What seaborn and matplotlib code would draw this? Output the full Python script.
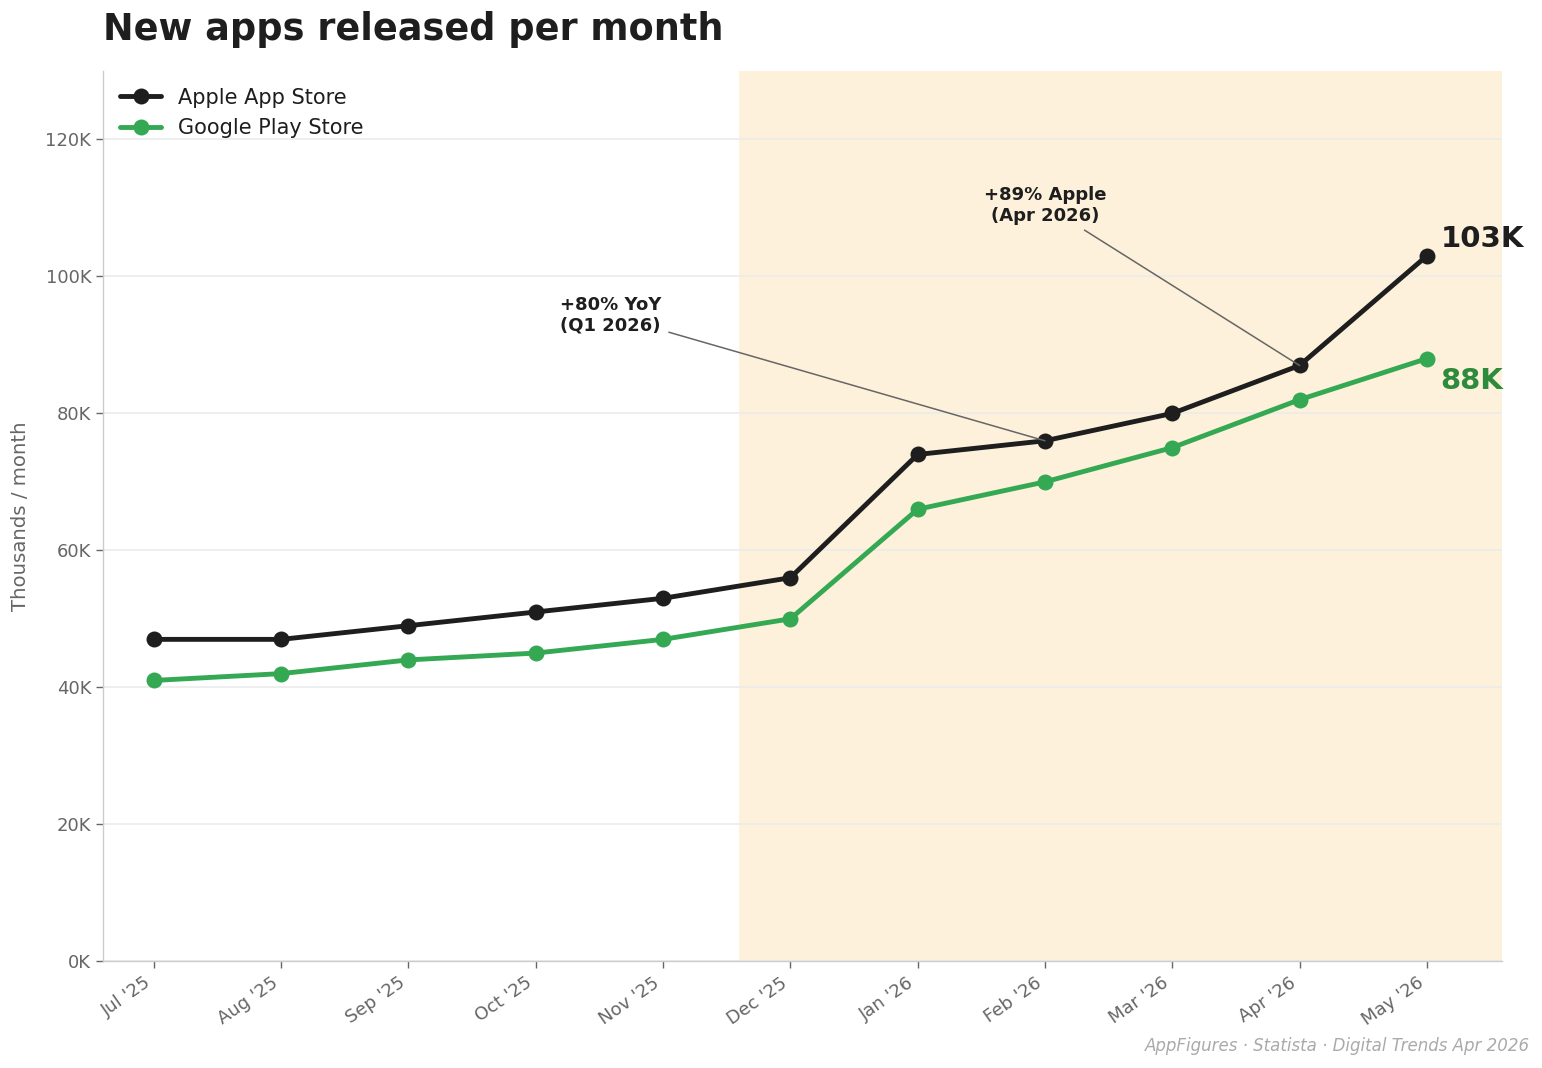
import matplotlib
matplotlib.use("Agg")
import matplotlib.pyplot as plt
import seaborn as sns
import pandas as pd
from matplotlib.ticker import FuncFormatter

months = ["Jul '25", "Aug '25", "Sep '25", "Oct '25", "Nov '25", "Dec '25",
          "Jan '26", "Feb '26", "Mar '26", "Apr '26", "May '26"]
apple = [47, 47, 49, 51, 53, 56, 74, 76, 80, 87, 103]
google = [41, 42, 44, 45, 47, 50, 66, 70, 75, 82, 88]
series_names = ["Apple App Store", "Google Play Store"]

APPLE_C = "#1e1e1e"
GOOGLE_C = "#34a853"
GOOGLE_LBL = "#2e8b3b"

df = pd.DataFrame({
    "idx": list(range(len(months))) * 2,
    "value": apple + google,
    "store": [series_names[0]] * len(months) + [series_names[1]] * len(months),
})

sns.set_style("white")
plt.rcParams["font.family"] = ["DejaVu Sans"]

fig, ax = plt.subplots(figsize=(15.42, 10.68), dpi=100)
fig.subplots_adjust(left=0.0668, right=0.974, top=0.9335, bottom=0.1)

ax.axvspan(4.6, 10.6, color="#fdf1db", zorder=0, lw=0)

sns.lineplot(data=df, x="idx", y="value", hue="store",
             palette={series_names[0]: APPLE_C, series_names[1]: GOOGLE_C},
             marker="o", markersize=11.5, linewidth=3.5, markeredgewidth=0,
             ax=ax, zorder=3)

ax.set_xlim(-0.4, 10.59)
ax.set_ylim(0, 130)
ax.set_yticks(range(0, 121, 20))
ax.yaxis.set_major_formatter(FuncFormatter(lambda v, p: f"{int(v)}K"))
ax.set_xticks(range(len(months)))
ax.set_xticklabels(months, rotation=35, ha="right")
ax.tick_params(axis="both", colors="#666666", labelsize=13, length=5, width=1,
               direction="out", bottom=True, left=True)
ax.tick_params(axis="x", pad=4)
ax.grid(axis="y", color="#ebebeb", linewidth=1.2, zorder=1)
ax.set_axisbelow(True)
for s in ["top", "right"]:
    ax.spines[s].set_visible(False)
for s in ["left", "bottom"]:
    ax.spines[s].set_color("#cccccc")
    ax.spines[s].set_linewidth(1)

ax.set_xlabel("")
ax.set_ylabel("Thousands / month", color="#666666", fontsize=14.2, labelpad=11)

ax.set_title("New apps released per month", loc="left", fontsize=26.4,
             fontweight="bold", color="#1e1e1e", pad=22, x=0.0)

leg = ax.legend(loc="upper left", frameon=False, fontsize=15,
                handlelength=2.0, borderaxespad=0.4, labelspacing=0.5)
for t in leg.get_texts():
    t.set_color("#1e1e1e")

# End labels
ax.annotate(f"{apple[-1]}K", xy=(10, apple[-1]), xytext=(10, 12),
            textcoords="offset points", fontsize=21, fontweight="bold",
            color=APPLE_C, ha="left", va="center")
ax.annotate(f"{google[-1]}K", xy=(10, google[-1]), xytext=(10, -16),
            textcoords="offset points", fontsize=21, fontweight="bold",
            color=GOOGLE_LBL, ha="left", va="center")

# Callouts
ax.annotate("+80% YoY\n(Q1 2026)", xy=(7, apple[7]), xytext=(3.59, 94.3),
            ha="center", va="center", fontsize=13, fontweight="bold",
            color="#1e1e1e", multialignment="left",
            arrowprops=dict(arrowstyle="-", color="#666666", lw=1.1,
                            shrinkA=3, shrinkB=0))
ax.annotate("+89% Apple\n(Apr 2026)", xy=(9, apple[9]), xytext=(7.0, 110.4),
            ha="center", va="center", fontsize=13, fontweight="bold",
            color="#1e1e1e", multialignment="center",
            arrowprops=dict(arrowstyle="-", color="#666666", lw=1.1,
                            shrinkA=3, shrinkB=0))

fig.text(0.992, 0.012, "AppFigures · Statista · Digital Trends Apr 2026",
         ha="right", va="bottom", fontsize=12, style="italic", color="#aaaaaa")

fig.savefig("out.png", dpi=100)
